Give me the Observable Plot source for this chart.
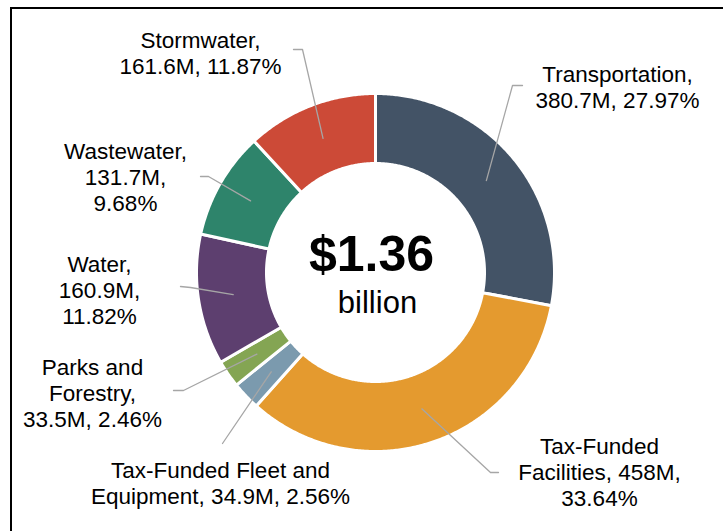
<!DOCTYPE html>
<html>
<head>
<meta charset="utf-8">
<script src="https://cdn.jsdelivr.net/npm/d3@7"></script>
<script src="https://cdn.jsdelivr.net/npm/@observablehq/plot@0.6"></script>
<style>
  html, body { margin: 0; padding: 0; background: #fff; overflow: hidden; }
  #wrap { position: relative; width: 723px; height: 531px; }
  #wrap svg { position: absolute; left: 0; top: 0; }
  #frame { position: absolute; left: 10px; top: 7px; right: 0; bottom: 0;
           border-left: 2px solid #000; border-top: 2px solid #000; pointer-events: none; }
</style>
</head>
<body>
<div id="wrap"><div id="frame"></div></div>
<script>
// ---- data ----
const categories = ["Transportation", "Tax-Funded Facilities", "Tax-Funded Fleet and Equipment",
  "Parks and Forestry", "Water", "Wastewater", "Stormwater"];
const valuesM = [380.7, 458, 34.9, 33.5, 160.9, 131.7, 161.6];
const percents = [27.97, 33.64, 2.56, 2.46, 11.82, 9.68, 11.87];
const labelTexts = [
  "Transportation,\n380.7M, 27.97%",
  "Tax-Funded\nFacilities, 458M,\n33.64%",
  "Tax-Funded Fleet and\nEquipment, 34.9M, 2.56%",
  "Parks and\nForestry,\n33.5M, 2.46%",
  "Water,\n160.9M,\n11.82%",
  "Wastewater,\n131.7M,\n9.68%",
  "Stormwater,\n161.6M, 11.87%"
];
const totalLabel = "$1.36";
const totalUnit = "billion";

// ---- style / layout ----
const palette = ["#435366", "#E49A2F", "#7B9AAE", "#84A553", "#5D3F6F", "#2E846B", "#CC4A37"];
const outerR = 179, innerR = 109;
// label layout, relative to donut centre (px): text centre x, text top y, elbow, end
const labelLayout = [
  {tx: 242, ty: -209, ex: 137, ey: -187, fx: 147, fy: -187},
  {tx: 224, ty: 163, ex: 115, ey: 200, fx: 123, fy: 200},
  {tx: -155, ty: 187, ex: -153, ey: 171, fx: -153, fy: 171},
  {tx: -283, ty: 84, ex: -192, ey: 118, fx: -202, fy: 118},
  {tx: -276, ty: -19, ex: -185, ey: 15, fx: -195, fy: 14},
  {tx: -250, ty: -132, ex: -167, ey: -96, fx: -175, fy: -96},
  {tx: -175, ty: -243, ex: -73, ey: -223, fx: -82, fy: -223}
];

const arcs = d3.pie().sort(null).value(d => d)(valuesM);

// slice polygons
const slicePts = [];
arcs.forEach((a, i) => {
  const n = Math.max(4, Math.ceil((a.endAngle - a.startAngle) / (Math.PI / 360)));
  for (let k = 0; k <= n; k++) {
    const t = a.startAngle + (a.endAngle - a.startAngle) * k / n;
    slicePts.push({name: categories[i], x: outerR * Math.sin(t), y: -outerR * Math.cos(t)});
  }
  for (let k = n; k >= 0; k--) {
    const t = a.startAngle + (a.endAngle - a.startAngle) * k / n;
    slicePts.push({name: categories[i], x: innerR * Math.sin(t), y: -innerR * Math.cos(t)});
  }
});

// leader lines
const leaderPts = [];
arcs.forEach((a, i) => {
  const m = (a.startAngle + a.endAngle) / 2, r = (outerR + innerR) / 2;
  const L = labelLayout[i];
  leaderPts.push({name: categories[i], x: r * Math.sin(m), y: -r * Math.cos(m)});
  leaderPts.push({name: categories[i], x: L.ex, y: L.ey});
  leaderPts.push({name: categories[i], x: L.fx, y: L.fy});
});

const labelRows = categories.map((c, i) => ({name: c, text: labelTexts[i], x: labelLayout[i].tx, y: labelLayout[i].ty}));

const chart = Plot.plot({
  width: 723, height: 531, margin: 0,
  x: {domain: [-375, 348], axis: null},
  y: {domain: [259, -272], axis: null},
  color: {domain: categories, range: palette},
  style: {fontFamily: "'Liberation Sans', Arial, sans-serif", background: "transparent"},
  marks: [
    Plot.line(slicePts, {x: "x", y: "y", z: "name", fill: "name", stroke: "#fff", strokeWidth: 3, curve: "linear-closed"}),
    Plot.line(leaderPts, {x: "x", y: "y", z: "name", stroke: "#A6A6A6", strokeWidth: 1.3}),
    Plot.text(labelRows, {x: "x", y: "y", text: "text", lineAnchor: "top", textAnchor: "middle",
      fontSize: 22.5, lineHeight: 1.16, fill: "#000"}),
    Plot.text([totalLabel], {x: 0, y: 0, text: d => d, dx: -4, dy: -2, lineAnchor: "bottom", fontSize: 50, fontWeight: "bold", fill: "#000"}),
    Plot.text([totalUnit], {x: 0, y: 0, text: d => d, dx: 2, dy: 40, lineAnchor: "bottom", fontSize: 31, fill: "#000"})
  ]
});
document.getElementById("wrap").insertBefore(chart, document.getElementById("frame"));
</script>
</body>
</html>
